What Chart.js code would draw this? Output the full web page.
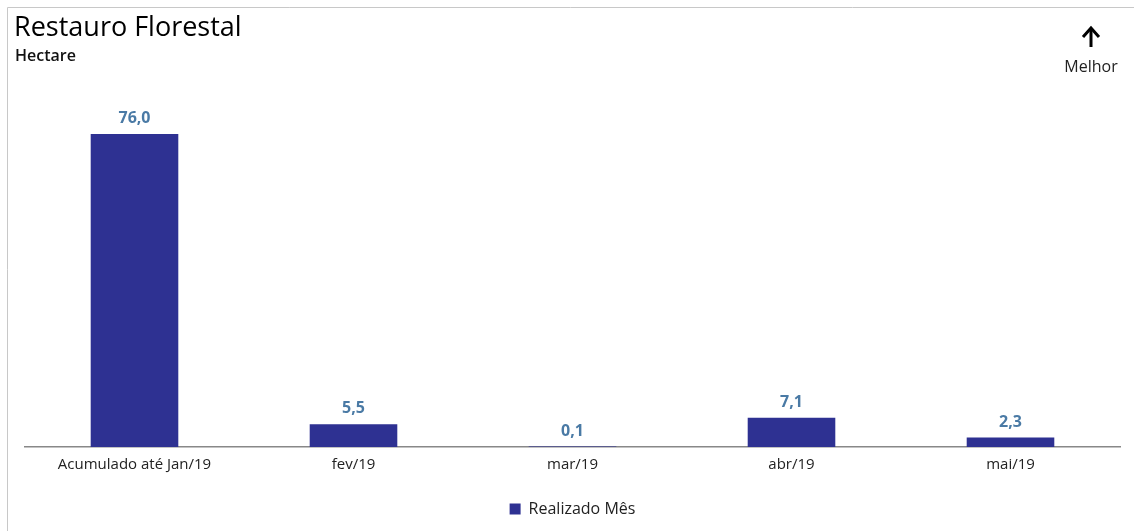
<!DOCTYPE html>
<html>
<head>
<meta charset="utf-8">
<script src="https://cdn.jsdelivr.net/npm/chart.js@4"></script>
<style>
  html, body { margin: 0; padding: 0; background: #fff; }
  #wrap { width: 1134px; height: 531px; position: relative; }
</style>
</head>
<body>
<div id="wrap"><canvas id="mycanvas" width="1134" height="531"></canvas></div>
<script>
// chart data
var categories = ['Acumulado até Jan/19', 'fev/19', 'mar/19', 'abr/19', 'mai/19'];
var realizado = [76.0, 5.5, 0.1, 7.1, 2.3];
var seriesName = 'Realizado Mês';
var chartTitle = 'Restauro Florestal';
var chartUnit = 'Hectare';

var FONT = "'Open Sans', 'Noto Sans', sans-serif";

// frame, title, arrow and value labels
var decorPlugin = {
  id: 'decor',
  afterDraw: function(chart) {
    var c = chart.ctx;
    c.save();
    // frame lines (top + left)
    c.strokeStyle = '#c8c8c8';
    c.lineWidth = 1;
    c.beginPath();
    c.moveTo(7.5, 531);
    c.lineTo(7.5, 7.5);
    c.lineTo(1134, 7.5);
    c.stroke();

    // title
    c.fillStyle = '#000';
    c.textBaseline = 'alphabetic';
    c.textAlign = 'left';
    c.font = '27px ' + FONT;
    c.fillText(chartTitle, 14, 36);
    c.font = '600 16px ' + FONT;
    c.fillStyle = '#111';
    c.fillText(chartUnit, 15, 61);

    // "better" arrow, drawn by hand so it is thick
    c.strokeStyle = '#000';
    c.lineWidth = 3;
    c.beginPath();
    c.moveTo(1091, 47);
    c.lineTo(1091, 29);
    c.stroke();
    c.beginPath();
    c.moveTo(1083, 37);
    c.lineTo(1091, 28);
    c.lineTo(1099, 37);
    c.stroke();
    c.textAlign = 'center';
    c.font = '16px ' + FONT;
    c.fillStyle = '#222';
    c.fillText('Melhor', 1091, 72);

    // value labels
    var meta = chart.getDatasetMeta(0);
    c.font = 'bold 16px ' + FONT;
    c.fillStyle = '#4a7aa5';
    c.textAlign = 'center';
    meta.data.forEach(function(bar, i) {
      var v = realizado[i];
      c.fillText(v.toFixed(1).replace('.', ','), bar.x, bar.y - 11);
    });
    c.restore();
  }
};

var ctx = document.getElementById('mycanvas');
new Chart(ctx, {
  type: 'bar',
  data: {
    labels: categories,
    datasets: [{
      label: seriesName,
      data: realizado,
      backgroundColor: '#2e3192',
      borderWidth: 0,
      categoryPercentage: 0.8,
      barPercentage: 0.5
    }]
  },
  options: {
    responsive: false,
    animation: false,
    layout: { padding: { top: 90, left: 25, right: 14, bottom: 4 } },
    scales: {
      x: {
        grid: { display: false, drawTicks: false },
        border: { display: true, color: '#888', width: 1.5 },
        ticks: { color: '#222', font: { family: FONT, size: 15 }, padding: 9, maxRotation: 0 }
      },
      y: {
        display: false,
        min: 0,
        max: 86.7
      }
    },
    plugins: {
      legend: {
        display: true,
        position: 'bottom',
        labels: {
          color: '#222',
          font: { family: FONT, size: 16 },
          boxWidth: 11,
          boxHeight: 11,
          padding: 18
        }
      },
      title: { display: false },
      tooltip: { enabled: false }
    }
  },
  plugins: [decorPlugin]
});
</script>
</body>
</html>
